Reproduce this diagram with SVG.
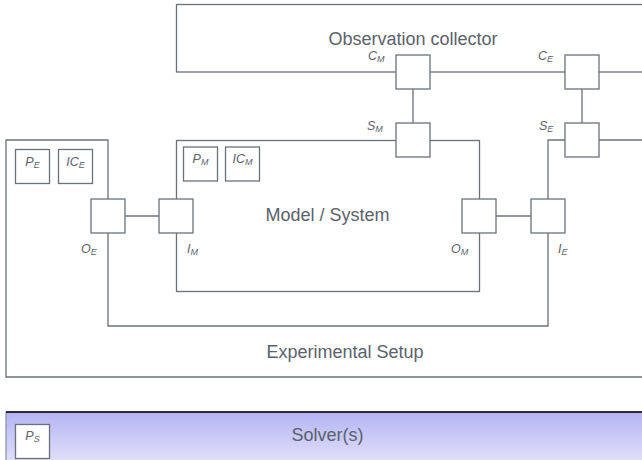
<svg xmlns="http://www.w3.org/2000/svg" width="642" height="460" viewBox="0 0 642 460">
<defs>
<linearGradient id="solverGrad" x1="0" y1="0" x2="0" y2="1">
<stop offset="0" stop-color="#b4b4f5"/>
<stop offset="1" stop-color="#f2f2fd"/>
</linearGradient>
</defs>
<style>
.frame{fill:none;stroke:#6b717b;stroke-width:1.3}
.port{fill:#fff;stroke:#6b717b;stroke-width:1.3}
.link{fill:none;stroke:#6b717b;stroke-width:1.3}
.title{font-family:"Liberation Sans",Arial,sans-serif;font-size:18px;fill:#5b626d;text-anchor:middle}
.lbl{font-family:"Liberation Sans",Arial,sans-serif;font-size:12.5px;font-style:italic;fill:#5b626d}
.sub{font-size:9px}
.mid{text-anchor:middle}
</style>
<rect width="642" height="460" fill="#fff"/>

<g id="experimental-setup">
<path class="frame" d="M6,140 H108 V326 H548 V140 H680 V377 H6 Z"/>
<text class="title" x="345" y="358">Experimental Setup</text>
<rect class="port" x="15.5" y="149.5" width="34" height="34"/>
<text class="lbl mid" x="32.5" y="166">P<tspan class="sub" dy="2">E</tspan></text>
<rect class="port" x="58.5" y="149.5" width="34" height="34"/>
<text class="lbl mid" x="75.5" y="166">IC<tspan class="sub" dy="2">E</tspan></text>
</g>

<g id="observation-collector">
<rect class="frame" x="176.5" y="4.5" width="500" height="67.5"/>
<text class="title" x="413" y="45">Observation collector</text>
</g>

<g id="model-system">
<rect class="frame" x="176.5" y="140.5" width="303" height="151"/>
<text class="title" x="327.5" y="221">Model / System</text>
<rect class="port" x="183.5" y="147" width="34" height="34"/>
<text class="lbl mid" x="200.5" y="163">P<tspan class="sub" dy="2">M</tspan></text>
<rect class="port" x="225.5" y="147" width="34" height="34"/>
<text class="lbl mid" x="242.5" y="163">IC<tspan class="sub" dy="2">M</tspan></text>
</g>

<g id="connectors">
<line class="link" x1="413" y1="89" x2="413" y2="123"/>
<line class="link" x1="582" y1="89" x2="582" y2="123"/>
<line class="link" x1="125" y1="216" x2="159" y2="216"/>
<line class="link" x1="496" y1="216" x2="531" y2="216"/>
</g>

<g id="port-CM">
<rect class="port" x="396" y="55" width="34" height="34"/>
<text class="lbl" x="368" y="60">C<tspan class="sub" dy="2">M</tspan></text>
</g>
<g id="port-CE">
<rect class="port" x="565" y="55" width="34" height="34"/>
<text class="lbl" x="538" y="60">C<tspan class="sub" dy="2">E</tspan></text>
</g>
<g id="port-SM">
<rect class="port" x="396" y="123" width="34" height="34"/>
<text class="lbl" x="367" y="130">S<tspan class="sub" dy="2">M</tspan></text>
</g>
<g id="port-SE">
<rect class="port" x="565" y="123" width="34" height="34"/>
<text class="lbl" x="539" y="130">S<tspan class="sub" dy="2">E</tspan></text>
</g>
<g id="port-OE">
<rect class="port" x="91" y="199" width="34" height="34"/>
<text class="lbl" x="81" y="253">O<tspan class="sub" dy="2">E</tspan></text>
</g>
<g id="port-IM">
<rect class="port" x="159" y="199" width="34" height="34"/>
<text class="lbl" x="187" y="253">I<tspan class="sub" dy="2">M</tspan></text>
</g>
<g id="port-OM">
<rect class="port" x="462" y="199" width="34" height="34"/>
<text class="lbl" x="451" y="253">O<tspan class="sub" dy="2">M</tspan></text>
</g>
<g id="port-IE">
<rect class="port" x="531" y="199" width="34" height="34"/>
<text class="lbl" x="558" y="253">I<tspan class="sub" dy="2">E</tspan></text>
</g>

<g id="solver">
<rect x="6" y="412" width="680" height="70" fill="url(#solverGrad)" stroke="#8a8f98" stroke-width="1.2"/>
<line x1="6" y1="412" x2="642" y2="412" stroke="#000" stroke-width="1.3"/>
<text class="title" x="327.5" y="441">Solver(s)</text>
<rect class="port" x="15.5" y="424.5" width="34" height="34"/>
<text class="lbl mid" x="32.5" y="440">P<tspan class="sub" dy="2">S</tspan></text>
</g>
</svg>
